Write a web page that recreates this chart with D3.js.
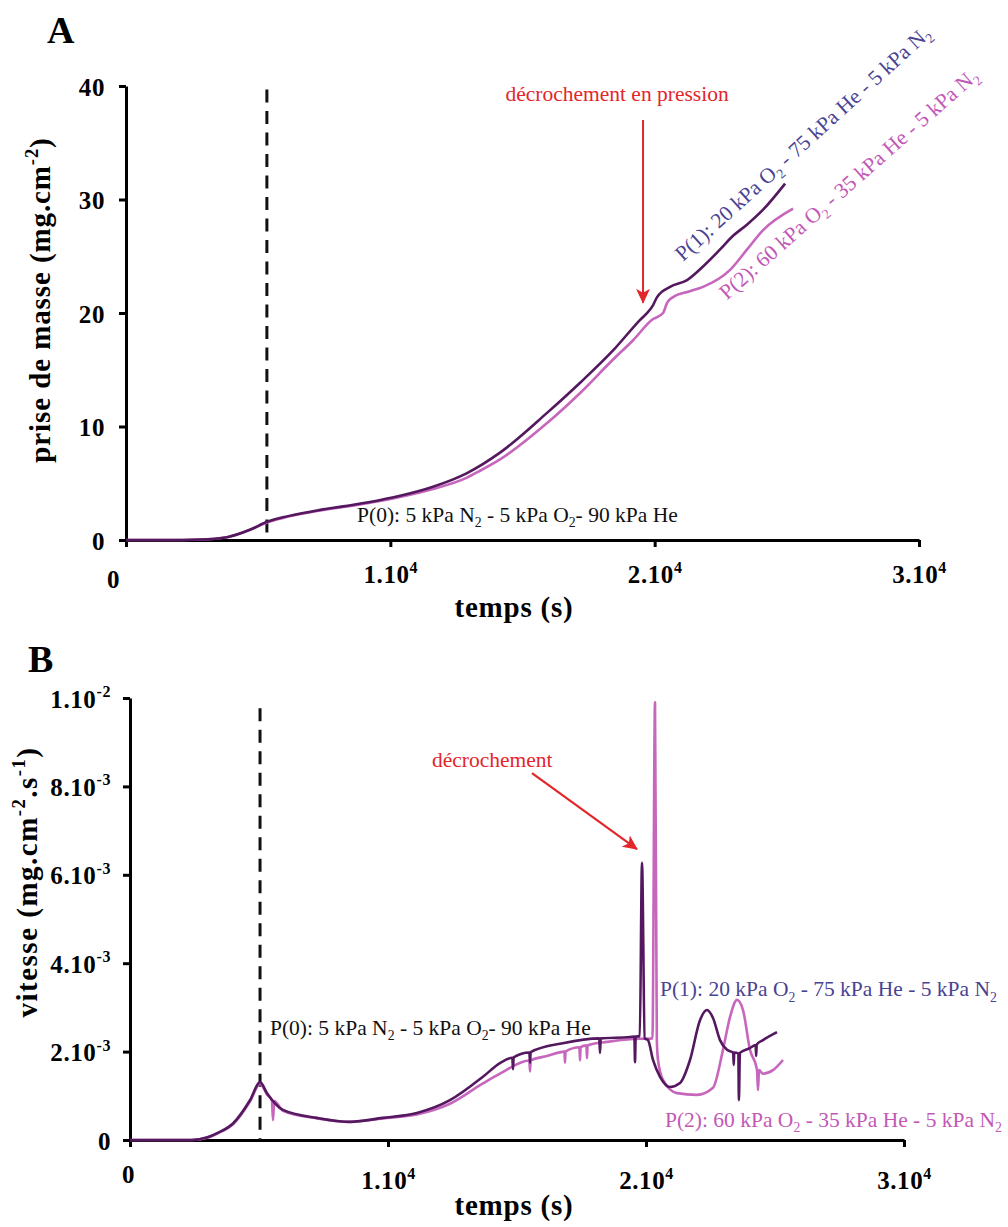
<!DOCTYPE html>
<html><head><meta charset="utf-8">
<script src="https://cdn.jsdelivr.net/npm/d3@7"></script>
<style>
body{margin:0;background:#fff}
svg{display:block}
text{font-family:"Liberation Serif","Times New Roman",serif}
</style>
</head><body>
<svg id="c" width="1008" height="1227"></svg>
<script>
// ---------- DATA ----------
const xTicks = [0, 10000, 20000, 30000];
const xTickBase = ["0", "1.10", "2.10", "3.10"];
const xTickExp = ["", "4", "4", "4"];

const massTicks = [0, 10, 20, 30, 40];
const massTickBase = ["0", "10", "20", "30", "40"];
const massTickExp = ["", "", "", "", ""];

const rateTicks = [0, 0.002, 0.004, 0.006, 0.008, 0.01];
const rateTickBase = ["0", "2.10", "4.10", "6.10", "8.10", "1.10"];
const rateTickExp = ["", "-3", "-3", "-3", "-3", "-2"];

// Panel A : prise de masse (mg.cm-2) vs temps (s)
const massP1 = [[0,0],[1500,0],[2800,0.05],[3820,0.25],[4690,0.9],[5335,1.6],[5940,2.0],[7227,2.6],[9118,3.3],[10367,3.9],[11616,4.7],[12902,5.9],[14150,7.7],[15929,11.2],[17200,13.9],[18426,16.7],[19448,19.4],[19826,20.3],[19940,20.7],[20091,21.4],[20583,22.3],[21226,22.9],[21831,24.1],[22475,25.6],[22966,26.8],[23500,27.8],[24101,29.1],[24934,31.4]];
const massP2 = [[0,0],[1500,0],[2800,0.05],[3820,0.25],[4690,0.9],[5335,1.55],[5940,1.95],[7227,2.55],[9118,3.25],[10367,3.8],[11616,4.5],[12902,5.5],[13394,6.1],[14150,7.1],[15929,10.3],[17200,13.0],[18426,15.9],[19183,17.6],[19900,19.4],[20318,20.0],[20470,20.9],[20696,21.4],[21300,21.9],[21831,22.3],[22853,23.8],[23496,25.6],[24101,27.3],[25237,29.2]];

// Panel B : vitesse (mg.cm-2.s-1) vs temps (s)
const rateP1 = [[0,0],[2400,0],[3000,0.06e-3],[3400,0.16e-3],[4000,0.38e-3],[4650,0.9e-3],[5040,1.31e-3],[5310,1.06e-3],[5930,0.68e-3],[7250,0.5e-3],[8530,0.41e-3],[9800,0.5e-3],[11120,0.61e-3],[12400,0.9e-3],[13680,1.43e-3],[14340,1.74e-3],[14820,1.86e-3],[14845,1.6e-3],[14870,1.87e-3],[15480,1.98e-3],[15504,1.75e-3],[15530,1.99e-3],[16780,2.19e-3],[18190,2.3e-3],[18217,1.97e-3],[18245,2.3e-3],[19380,2.33e-3],[19550,2.34e-3],[19574,1.76e-3],[19600,2.34e-3],[19760,2.35e-3],[19845,6.27e-3],[19950,2.3e-3],[20078,2.26e-3],[20271,1.81e-3],[20543,1.43e-3],[20930,1.2e-3],[21318,1.29e-3],[21705,1.81e-3],[22093,2.71e-3],[22364,2.94e-3],[22597,2.76e-3],[22868,2.26e-3],[23140,2.04e-3],[23380,1.98e-3],[23400,1.7e-3],[23420,1.98e-3],[23580,1.96e-3],[23600,0.9e-3],[23640,1.97e-3],[24031,2.08e-3],[24250,2.15e-3],[24270,1.9e-3],[24290,2.16e-3],[24535,2.26e-3],[25078,2.44e-3]];
const rateP2 = [[0,0],[2400,0],[3000,0.05e-3],[3400,0.15e-3],[4000,0.36e-3],[4650,0.87e-3],[5040,1.27e-3],[5310,1.03e-3],[5500,0.9e-3],[5543,0.45e-3],[5590,0.88e-3],[5930,0.66e-3],[7250,0.49e-3],[8530,0.41e-3],[9800,0.49e-3],[11120,0.58e-3],[12400,0.82e-3],[13680,1.28e-3],[14340,1.5e-3],[15480,1.8e-3],[15504,1.55e-3],[15530,1.8e-3],[16163,1.9e-3],[16840,2.0e-3],[16860,1.75e-3],[16880,2.0e-3],[17420,2.1e-3],[17442,1.8e-3],[17465,2.1e-3],[17690,2.14e-3],[17713,1.85e-3],[17735,2.14e-3],[18500,2.22e-3],[19380,2.28e-3],[20250,2.3e-3],[20349,9.9e-3],[20420,2.26e-3],[20465,1.81e-3],[20659,1.36e-3],[21202,1.06e-3],[21977,1.02e-3],[22597,1.18e-3],[22984,2.04e-3],[23256,2.78e-3],[23527,3.17e-3],[23760,2.94e-3],[24031,2.04e-3],[24300,1.6e-3],[24341,1.13e-3],[24380,1.58e-3],[24535,1.5e-3],[24922,1.58e-3],[25310,1.81e-3]];

// change of atmosphere (dashed lines)
const switchA = 5330, switchTopA = 39.7;
const switchB = 5040, switchTopB = 0.00977;

// ---------- STYLE ----------
const cDark = "#54185f", cPink = "#c766bd";
const cP1Text = "#4a4394", cP2Text = "#c258b6", cRed = "#e3262a";
const FONT = '"Liberation Serif","Times New Roman",serif';
const TICK_FS = 25;

const svg = d3.select("#c");
svg.append("defs").append("marker")
  .attr("id","arr").attr("markerUnits","userSpaceOnUse")
  .attr("markerWidth",16).attr("markerHeight",14)
  .attr("refX",14).attr("refY",7).attr("orient","auto")
  .append("path").attr("d","M0,0 L15,7 L0,14 L4,7 Z").attr("fill",cRed);

function rich(t, parts, fs, startDy) {
  let shift = 0;
  parts.forEach(([s, m], i) => {
    const target = m === "sup" ? -0.42*fs : m === "sub" ? 0.24*fs : 0;
    const ts = t.append("tspan").text(s).attr("dy", target - shift + (i === 0 ? (startDy || 0) : 0));
    if (m) ts.attr("font-size", fs*0.64);
    shift = target;
  });
}

function panel(o) {
  const g = svg.append("g");
  const y0 = o.y.range()[0], x0 = o.x.range()[0];
  const ax = g.append("g").attr("transform", `translate(0,${y0})`)
    .call(d3.axisBottom(o.x).tickValues(xTicks).tickSize(7).tickSizeOuter(0));
  const ay = g.append("g").attr("transform", `translate(${x0},0)`)
    .call(d3.axisLeft(o.y).tickValues(o.yTicks).tickSize(7).tickSizeOuter(0));
  [ax, ay].forEach(a => {
    a.attr("font-family", FONT).attr("font-size", TICK_FS).attr("font-weight","bold");
    a.selectAll("path,line").attr("stroke","#000").attr("stroke-width",3);
    a.selectAll("text").attr("fill","#000").attr("letter-spacing",0.6);
  });
  ax.selectAll(".tick text").each(function(d,i){
    const t = d3.select(this).text(null).attr("dy", null).attr("y", o.xBase);
    rich(t, [[xTickBase[i],""],[xTickExp[i],"sup"]], TICK_FS);
    if (i === 0) t.attr("dx", o.zeroDx).attr("y", o.xBase + o.zeroDy);
  });
  ay.selectAll(".tick text").each(function(d,i){
    const t = d3.select(this).text(null).attr("dy", null).attr("x", -o.yRight);
    rich(t, [[o.yBase[i],""],[o.yExp[i],"sup"]], TICK_FS, o.yDy);
  });
  g.append("line")
    .attr("x1", o.x(o.sw)).attr("x2", o.x(o.sw))
    .attr("y1", o.y(o.swTop)).attr("y2", o.y(0))
    .attr("stroke","#111").attr("stroke-width",3).attr("stroke-dasharray","13 8.5");
  const line = d3.line().x(d => o.x(d[0])).y(d => o.y(d[1])).curve(d3.curveMonotoneX);
  g.append("path").datum(o.s2).attr("d", line).attr("fill","none")
    .attr("stroke", cPink).attr("stroke-width", 2.6).attr("stroke-linejoin","round");
  g.append("path").datum(o.s1).attr("d", line).attr("fill","none")
    .attr("stroke", cDark).attr("stroke-width", 2.6).attr("stroke-linejoin","round");
  return g;
}

// ---------- PANEL A ----------
const xA = d3.scaleLinear().domain([0,30000]).range([126,919]);
const yA = d3.scaleLinear().domain([0,40]).range([540,86]);
const gA = panel({x:xA, y:yA, yTicks:massTicks, yBase:massTickBase, yExp:massTickExp,
  xBase:43, yRight:21, yDy:9, zeroDx:-13, zeroDy:5,
  sw:switchA, swTop:switchTopA, s1:massP1, s2:massP2});

// ---------- PANEL B ----------
const xB = d3.scaleLinear().domain([0,30000]).range([130,904]);
const yB = d3.scaleLinear().domain([0,0.01]).range([1140,698]);
const gB = panel({x:xB, y:yB, yTicks:rateTicks, yBase:rateTickBase, yExp:rateTickExp,
  xBase:49, yRight:19, yDy:9, zeroDx:-2, zeroDy:-6,
  sw:switchB, swTop:switchTopB, s1:rateP1, s2:rateP2});

// ---------- TEXTS ----------
function label(g, x, y, parts, opts) {
  const t = g.append("text").attr("x", x).attr("y", y)
    .attr("font-size", opts.fs).attr("fill", opts.fill || "#111")
    .attr("font-weight", opts.bold ? "bold" : "normal");
  if (opts.anchor) t.attr("text-anchor", opts.anchor);
  if (opts.ls) t.attr("letter-spacing", opts.ls);
  if (opts.rot !== undefined) t.attr("transform", `rotate(${opts.rot},${x},${y})`);
  rich(t, parts, opts.fs);
  return t;
}

label(svg, 47, 43, [["A",""]], {fs:38, bold:true, fill:"#000"});
label(svg, 28, 672, [["B",""]], {fs:38, bold:true, fill:"#000"});

label(svg, 514, 617, [["temps (s)",""]], {fs:29, bold:true, anchor:"middle", ls:0.8, fill:"#000"});
label(svg, 514, 1215, [["temps (s)",""]], {fs:29, bold:true, anchor:"middle", ls:0.8, fill:"#000"});
label(svg, 50, 300, [["prise de masse (mg.cm",""],["-2","sup"],[")",""]], {fs:29, bold:true, anchor:"middle", rot:-90, ls:0.9, fill:"#000"});
label(svg, 37, 882, [["vitesse (mg.cm",""],["-2","sup"],[".s",""],["-1","sup"],[")",""]], {fs:29, bold:true, anchor:"middle", rot:-90, ls:1.5, fill:"#000"});

const p1Parts = [["P(1): 20 kPa O",""],["2","sub"],[" - 75 kPa He - 5 kPa N",""],["2","sub"]];
const p2Parts = [["P(2): 60 kPa O",""],["2","sub"],[" - 35 kPa He - 5 kPa N",""],["2","sub"]];
const p0Parts = [["P(0): 5 kPa N",""],["2","sub"],[" - 5 kPa O",""],["2","sub"],["- 90 kPa He",""]];

label(gA, xA(8740), yA(1.6), p0Parts, {fs:21.5});
label(gA, xA(21075), yA(24.5), p1Parts, {fs:21.5, fill:cP1Text, rot:-42.3});
label(gA, xA(22740), yA(21.1), p2Parts, {fs:21.5, fill:cP2Text, rot:-41.4});
label(gA, xA(18577), yA(38.7), [["décrochement en pression",""]], {fs:21.5, fill:cRed, anchor:"middle"});
gA.append("line").attr("x1", xA(19560)).attr("x2", xA(19560))
  .attr("y1", yA(37.0)).attr("y2", yA(20.9))
  .attr("stroke", cRed).attr("stroke-width", 2).attr("marker-end","url(#arr)");

label(gB, xB(5426), yB(0.00237), p0Parts, {fs:21.5});
label(gB, xB(20543), yB(0.00325), p1Parts, {fs:21.5, fill:cP1Text});
label(gB, xB(20736), yB(0.00029), p2Parts, {fs:21.5, fill:cP2Text});
label(gB, xB(11705), yB(0.00844), [["décrochement",""]], {fs:21.5, fill:cRed});
gB.append("line").attr("x1", xB(15581)).attr("x2", xB(19651))
  .attr("y1", yB(0.0083)).attr("y2", yB(0.00658))
  .attr("stroke", cRed).attr("stroke-width", 2.2).attr("marker-end","url(#arr)");
</script>
</body></html>
